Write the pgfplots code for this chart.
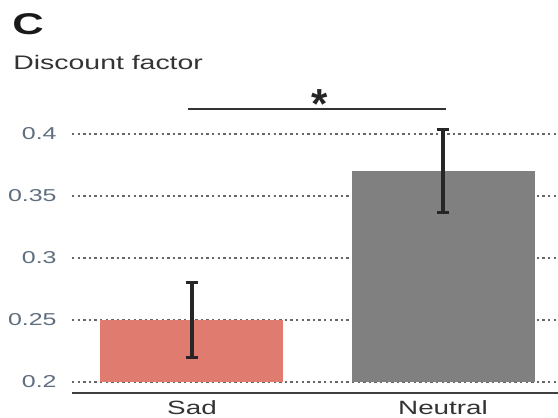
\documentclass[border=0pt]{standalone}
\usepackage{fontspec}
\setmainfont{Liberation Sans}[FakeStretch=1.45]
\newfontfamily\starfont{Liberation Sans}
\usepackage{pgfplots}
\pgfplotsset{compat=1.18}
\definecolor{sadred}{HTML}{E07B70}
\definecolor{neutgray}{HTML}{808080}
\definecolor{ticklab}{HTML}{5E6E7E}
\begin{document}
\begin{tikzpicture}
\useasboundingbox (0,0) rectangle (279pt,209pt);
\node[anchor=base west, font=\fontsize{15}{15}\selectfont\bfseries, text=black!90, inner sep=0pt] at (6pt,191.5pt) {C};
\node[anchor=base west, font=\fontsize{9.8}{10}\selectfont, text=black!80, inner sep=0pt] at (6.5pt,174pt) {Discount factor};
\begin{axis}[
  name=ax,
  at={(36pt,18pt)}, anchor=south west,
  width=243pt, height=155pt, scale only axis,
  ybar, bar width=91.5pt, bar shift=0pt,
  xmin=-0.478, xmax=1.458,
  ymin=0.2, ymax=0.45,
  xtick={0,1}, xticklabels={Sad,Neutral},
  ytick={0.2,0.25,0.3,0.35,0.4},
  yticklabels={0.2,0.25,0.3,0.35,0.4},
  major tick length=0pt,
  axis line style={draw=none},
  ymajorgrids,
  major grid style={dash pattern=on 1.2pt off 1.6pt, line width=1pt, black!60},
  xticklabel style={font=\fontsize{9.6}{10}\selectfont, text=black!80, inner sep=0pt, anchor=north, yshift=-9.3pt},
  yticklabel style={font=\fontsize{8.6}{9}\selectfont, text=ticklab, inner sep=0pt, anchor=east, xshift=-7.5pt},
  error bars/error bar style={line width=1.8pt, black!85},
  error bars/error mark options={rotate=90, mark size=3pt, line width=1.6pt, black!85},
]
\addplot[fill=sadred, draw=none, error bars/.cd, y dir=both, y explicit]
  coordinates {(0,0.25) +- (0,0.03)};
\addplot[fill=neutgray, draw=none, error bars/.cd, y dir=both, y explicit]
  coordinates {(1,0.37) +- (0,0.0335)};
\draw[line width=0.9pt, black!80] (axis cs:-0.016,0.42) -- (axis cs:1.012,0.42);
\node[anchor=base, font=\starfont\bfseries\fontsize{21}{21}\selectfont, inner sep=0pt, text=black!85] at (axis cs:0.51,0.4125) {*};
\end{axis}
\draw[line width=1pt, black!75] ([yshift=-5.5pt]ax.south west) -- ([yshift=-5.5pt]ax.south east);
\end{tikzpicture}
\end{document}
